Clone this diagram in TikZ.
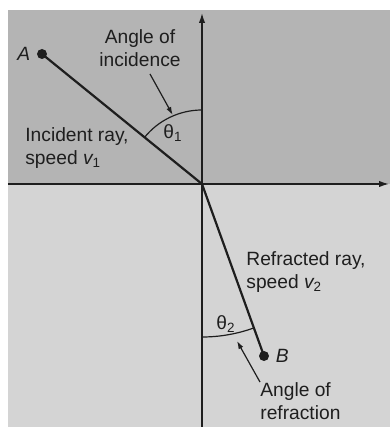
\documentclass[tikz,border=0pt]{standalone}
\usepackage{fontspec}
\setmainfont{Liberation Sans}
\usetikzlibrary{arrows.meta,positioning}
\definecolor{upgray}{RGB}{180,180,180}
\definecolor{lowgray}{RGB}{212,212,212}
\definecolor{inkdark}{RGB}{30,30,30}

\begin{document}
\begin{tikzpicture}[x=0.5pt, y=0.5pt,
      font=\fontsize{9.6}{11.5}\selectfont, color=inkdark,
      axis/.style={line width=0.7pt, -{Latex[length=5pt,width=3.2pt]}},
      ray/.style={line width=1.1pt},
      anglearc/.style={line width=0.6pt},
      ptr/.style={line width=0.6pt, -{Latex[length=4pt,width=2.6pt]}},
      dot/.style={circle, fill=inkdark, inner sep=0pt, minimum size=5pt},
      lbl/.style={inner sep=0pt, align=left}
    ]
    \useasboundingbox (-202,-243) rectangle (188,184);
    % the two media
    \fill[upgray] (-194,0) rectangle (188,174);
    \fill[lowgray] (-194,-243) rectangle (188,0);
    % axes
    \coordinate (O) at (0,0);
    \coordinate (xl) at (-194,0);
    \coordinate (xr) at (187,0);
    \coordinate (yb) at (0,-243);
    \coordinate (yt) at (0,171);
    \draw[axis] (xl) -- (xr);
    \draw[axis] (yb) -- (yt);
    % points and rays
    \node[dot] (A) at (-160,130) {};
    \node[dot] (B) at (62,-172) {};
    \node[left=3pt of A, inner sep=0pt] (Alab) {\itshape A};
    \node[right=3pt of B, inner sep=0pt] (Blab) {\itshape B};
    \draw[ray] (A.center) -- (O);
    \draw[ray] (O) -- (B.center);
    % angles
    \draw[anglearc] (90:74) arc[start angle=90, end angle=140.9, radius=37pt];
    \draw[anglearc] (-90:153) arc[start angle=-90, end angle=-70.2, radius=76.5pt];
    \node (th1) at (-29,51) {θ\textsubscript{1}};
    \node (th2) at (24,-140) {θ\textsubscript{2}};
    \coordinate (t1) at (113:75);
    \coordinate (t2) at (35,-157);
    % labels
    \node[lbl, align=center] (inc) at (-62,136) {Angle of\\incidence};
    \node[lbl, anchor=west] (iray) at (-177,36) {Incident ray,\\speed {\itshape v}\textsubscript{1}};
    \node[lbl, anchor=west] (rray) at (44,-88) {Refracted ray,\\speed {\itshape v}\textsubscript{2}};
    \node[lbl, anchor=west] (refr) at (58,-217) {Angle of\\refraction};
    \coordinate (incfoot) at (-52,110);
    \draw[ptr] (incfoot) -- (t1);
    \draw[ptr] (refr.north west) -- (t2);
  \end{tikzpicture}
\end{document}
